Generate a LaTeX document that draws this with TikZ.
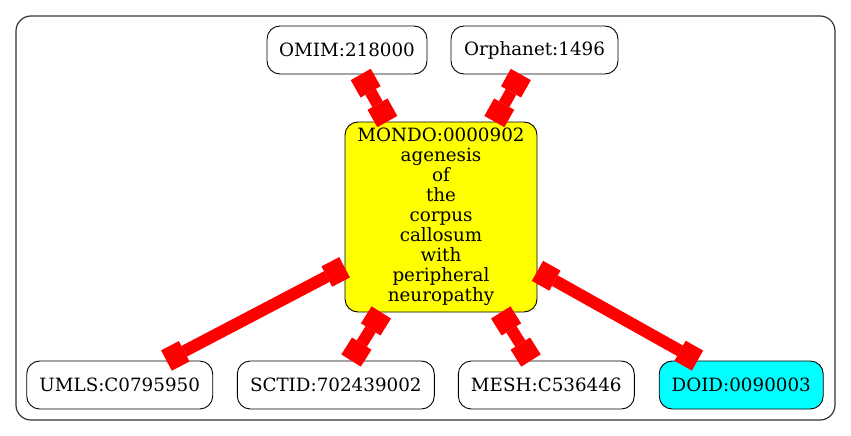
\documentclass[tikz,border=0pt]{standalone}
\usepackage{fontspec}
\setmainfont{DejaVu Serif}
\usetikzlibrary{arrows.meta}
\definecolor{termyellow}{RGB}{255,255,0}
\definecolor{termcyan}{RGB}{0,255,255}
\definecolor{linkred}{RGB}{255,0,0}
\tikzset{
  term/.style={draw=black, line width=0.9pt, rounded corners=13pt, fill=white, minimum height=48pt,
    inner sep=0pt, font=\fontsize{18.3}{20}\selectfont},
  link/.style={linkred, line width=12pt,
    {Square[length=20pt,width=23pt,line width=0pt]}-{Square[length=20pt,width=23pt,line width=0pt]}}
}
\begin{document}
\begin{tikzpicture}[x=1pt,y=-1pt]
   \useasboundingbox (0,0) rectangle (851,436);
   \draw[rounded corners=15pt, line width=1.2pt, black!80] (16,16) rectangle (835,420);

   \node[term, minimum width=160pt] (omim) at (347,50) {OMIM:218000};
   \node[term, minimum width=167pt] (orpha) at (534.5,50) {Orphanet:1496};
   \node[term, fill=termyellow, minimum width=192pt, minimum height=190pt, align=center] (mondo) at (441,217)
     {MONDO:0000902\\agenesis\\of\\the\\corpus\\callosum\\with\\peripheral\\neuropathy};
   \node[term, minimum width=186pt] (umls) at (119.7,385) {UMLS:C0795950};
   \node[term, minimum width=197pt] (sctid) at (335.8,385) {SCTID:702439002};
   \node[term, minimum width=176pt] (mesh) at (546.3,385) {MESH:C536446};
   \node[term, fill=termcyan, minimum width=164pt] (doid) at (741.2,385) {DOID:0090003};

   \foreach \t in {omim,orpha,umls,sctid,mesh,doid}
   \draw[link] (mondo) -- (\t);

\end{tikzpicture}
\end{document}
